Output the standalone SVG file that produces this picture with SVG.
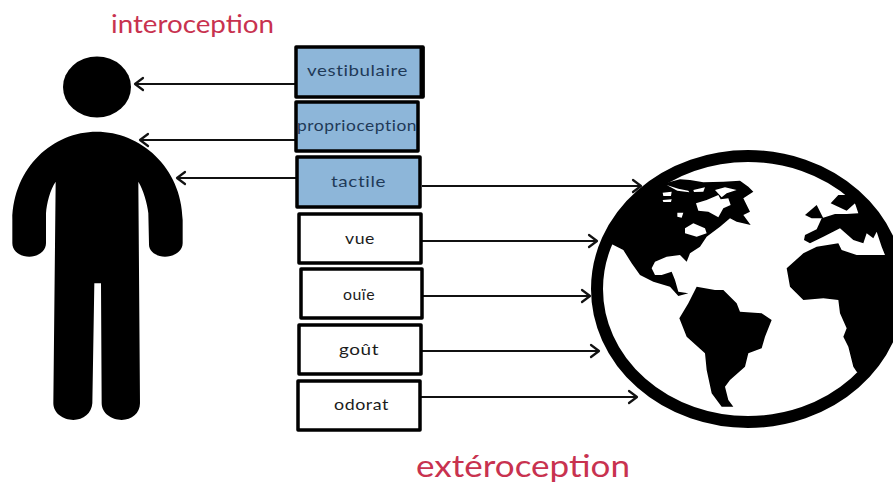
<svg xmlns="http://www.w3.org/2000/svg" width="893" height="483" viewBox="0 0 893 483">
<style>
.box{stroke:#000;stroke-width:3.5;stroke-linecap:round;stroke-linejoin:round}
.blue{fill:#8db6d9}
.white{fill:#fff}
.lbl{font-family:"Lato","Liberation Sans",sans-serif;font-size:16px;fill:#1f3a58;text-anchor:start;letter-spacing:.5px}
.wht{fill:#1c1c1c}
.ttl{font-family:"Lato","Liberation Sans",sans-serif;fill:#c8324f}
.arr{fill:none;stroke:#111;stroke-width:2;marker-end:url(#head)}
.k{fill:#000}
.hole{fill:#fff}
</style>
<defs>
<marker id="head" markerUnits="userSpaceOnUse" markerWidth="16" markerHeight="16" refX="13" refY="8" orient="auto">
<path d="M5 2 L13 8 L5 14" fill="none" stroke="#111" stroke-width="2.2" stroke-linecap="round" stroke-linejoin="round"/>
</marker>
<clipPath id="land"><ellipse cx="475" cy="448" rx="452" ry="398"/></clipPath>
</defs>
<rect width="893" height="483" fill="#fff"/>
<g id="person">
<ellipse class="k" cx="97" cy="87" rx="34" ry="30.500"/>
<path class="k" transform="scale(.33333)" d="M290 395C420 395 545 500 548 660L548 730C548 755 520 770 495 770C470 770 445 755 447 730L445 640C442 610 430 570 415 545L420 1210C420 1240 395 1260 365 1260C335 1260 305 1240 305 1210L303 850L283 850L277 1210C275 1240 250 1260 220 1260C190 1260 160 1240 160 1210L167 545C150 570 140 610 138 640L138 730C138 755 112 770 88 770C62 770 37 755 37 730L37 660C40 500 160 395 290 395Z"/>
</g>
<g id="globe">
<ellipse cx="748" cy="289" rx="151" ry="133" fill="#fff" stroke="#000" stroke-width="12"/>
<g transform="translate(590 140) scale(.33333)">
<g clip-path="url(#land)">
<path class="k" d="M150 140L225 130L270 118L300 120L340 127L400 125L450 122L475 140L490 155L460 175L470 195L480 215L460 225L482 255L440 245L420 235L390 260L350 290L330 320L300 340L290 365L270 345L230 350L195 365L185 385L195 405L215 405L245 395L255 420L265 455L295 460L265 468L240 440L190 425L150 405L125 370L100 330L60 310L30 285L100 180Z"/>
<path class="k" d="M320 440L375 450L400 450L440 490L450 515L515 520L545 540L525 590L515 625L475 640L465 680L420 720L405 740L415 780L430 800L395 800L365 760L350 690L345 640L290 590L268 535L295 490Z"/>
<path class="k" d="M590 385L640 340L680 320L745 310L755 330L800 345L880 345L960 345L960 760L800 695L790 680L775 620L760 590L770 565L750 520L745 480L700 475L640 480L600 440Z"/>
<path class="k" d="M645 285L680 268L695 235L735 222L770 222L805 220L795 190L770 212L722 190L745 165L775 165L840 180L960 260L960 350L885 345L875 320L860 275L850 295L830 280L820 310L790 300L750 265L700 290L660 310L642 300Z"/>
<path class="k" d="M645 225L680 195L700 235L665 235Z"/>
</g>
<path class="hole" d="M218 158L245 155L243 168L220 168ZM218 180L245 178L243 186L220 186ZM262 218L280 218L275 233L262 230ZM318 190L350 180L385 165L392 178L415 175L422 195L400 205L385 232L355 215L325 212ZM285 265L310 250L345 265L350 280L320 290L285 280ZM230 135L265 146L295 152L298 157L262 152ZM310 150L345 142L340 155L312 156ZM375 150L405 142L440 150L410 160L395 172ZM425 240L445 255L430 270L420 255Z"/>
</g>
</g>
<g id="connectors">
<path class="arr" d="M296 84H135"/>
<path class="arr" d="M296 140H140"/>
<path class="arr" d="M296 178H177"/>
<path class="arr" d="M422 186H641"/>
<path class="arr" d="M422 241H597"/>
<path class="arr" d="M422 296H590"/>
<path class="arr" d="M422 351H599"/>
<path class="arr" d="M421 397H637"/>
</g>
<g id="vestibulaire"><path class="box blue" d="M296 47H423V97H296Z"/><path d="M422 47V97" stroke="#000" stroke-width="5"/><text class="lbl" x="307" y="76" textLength="101" lengthAdjust="spacingAndGlyphs">vestibulaire</text></g>
<g id="proprioception"><path class="box blue" d="M296 102H418V151H296Z"/><text class="lbl" x="297" y="131" textLength="120" lengthAdjust="spacingAndGlyphs">proprioception</text></g>
<g id="tactile"><path class="box blue" d="M297 157H420V207H297Z"/><text class="lbl" x="331" y="187" textLength="55" lengthAdjust="spacingAndGlyphs">tactile</text></g>
<g id="vue"><path class="box white" d="M299 214H421V263H299Z"/><text class="lbl wht" x="345" y="244" textLength="30" lengthAdjust="spacingAndGlyphs">vue</text></g>
<g id="ouie"><path class="box white" d="M301 269H422V318H301Z"/><text class="lbl wht" x="343" y="300" textLength="32" lengthAdjust="spacingAndGlyphs">ouïe</text></g>
<g id="gout"><path class="box white" d="M299 325H421V374H299Z"/><text class="lbl wht" x="339" y="355" textLength="40" lengthAdjust="spacingAndGlyphs">goût</text></g>
<g id="odorat"><path class="box white" d="M298 381H420V430H298Z"/><text class="lbl wht" x="334" y="410" textLength="55" lengthAdjust="spacingAndGlyphs">odorat</text></g>
<text class="ttl" x="111" y="33" font-size="25" textLength="163" lengthAdjust="spacingAndGlyphs">interoception</text>
<text class="ttl" x="416" y="477" font-size="30" textLength="214" lengthAdjust="spacingAndGlyphs">extéroception</text>
</svg>
